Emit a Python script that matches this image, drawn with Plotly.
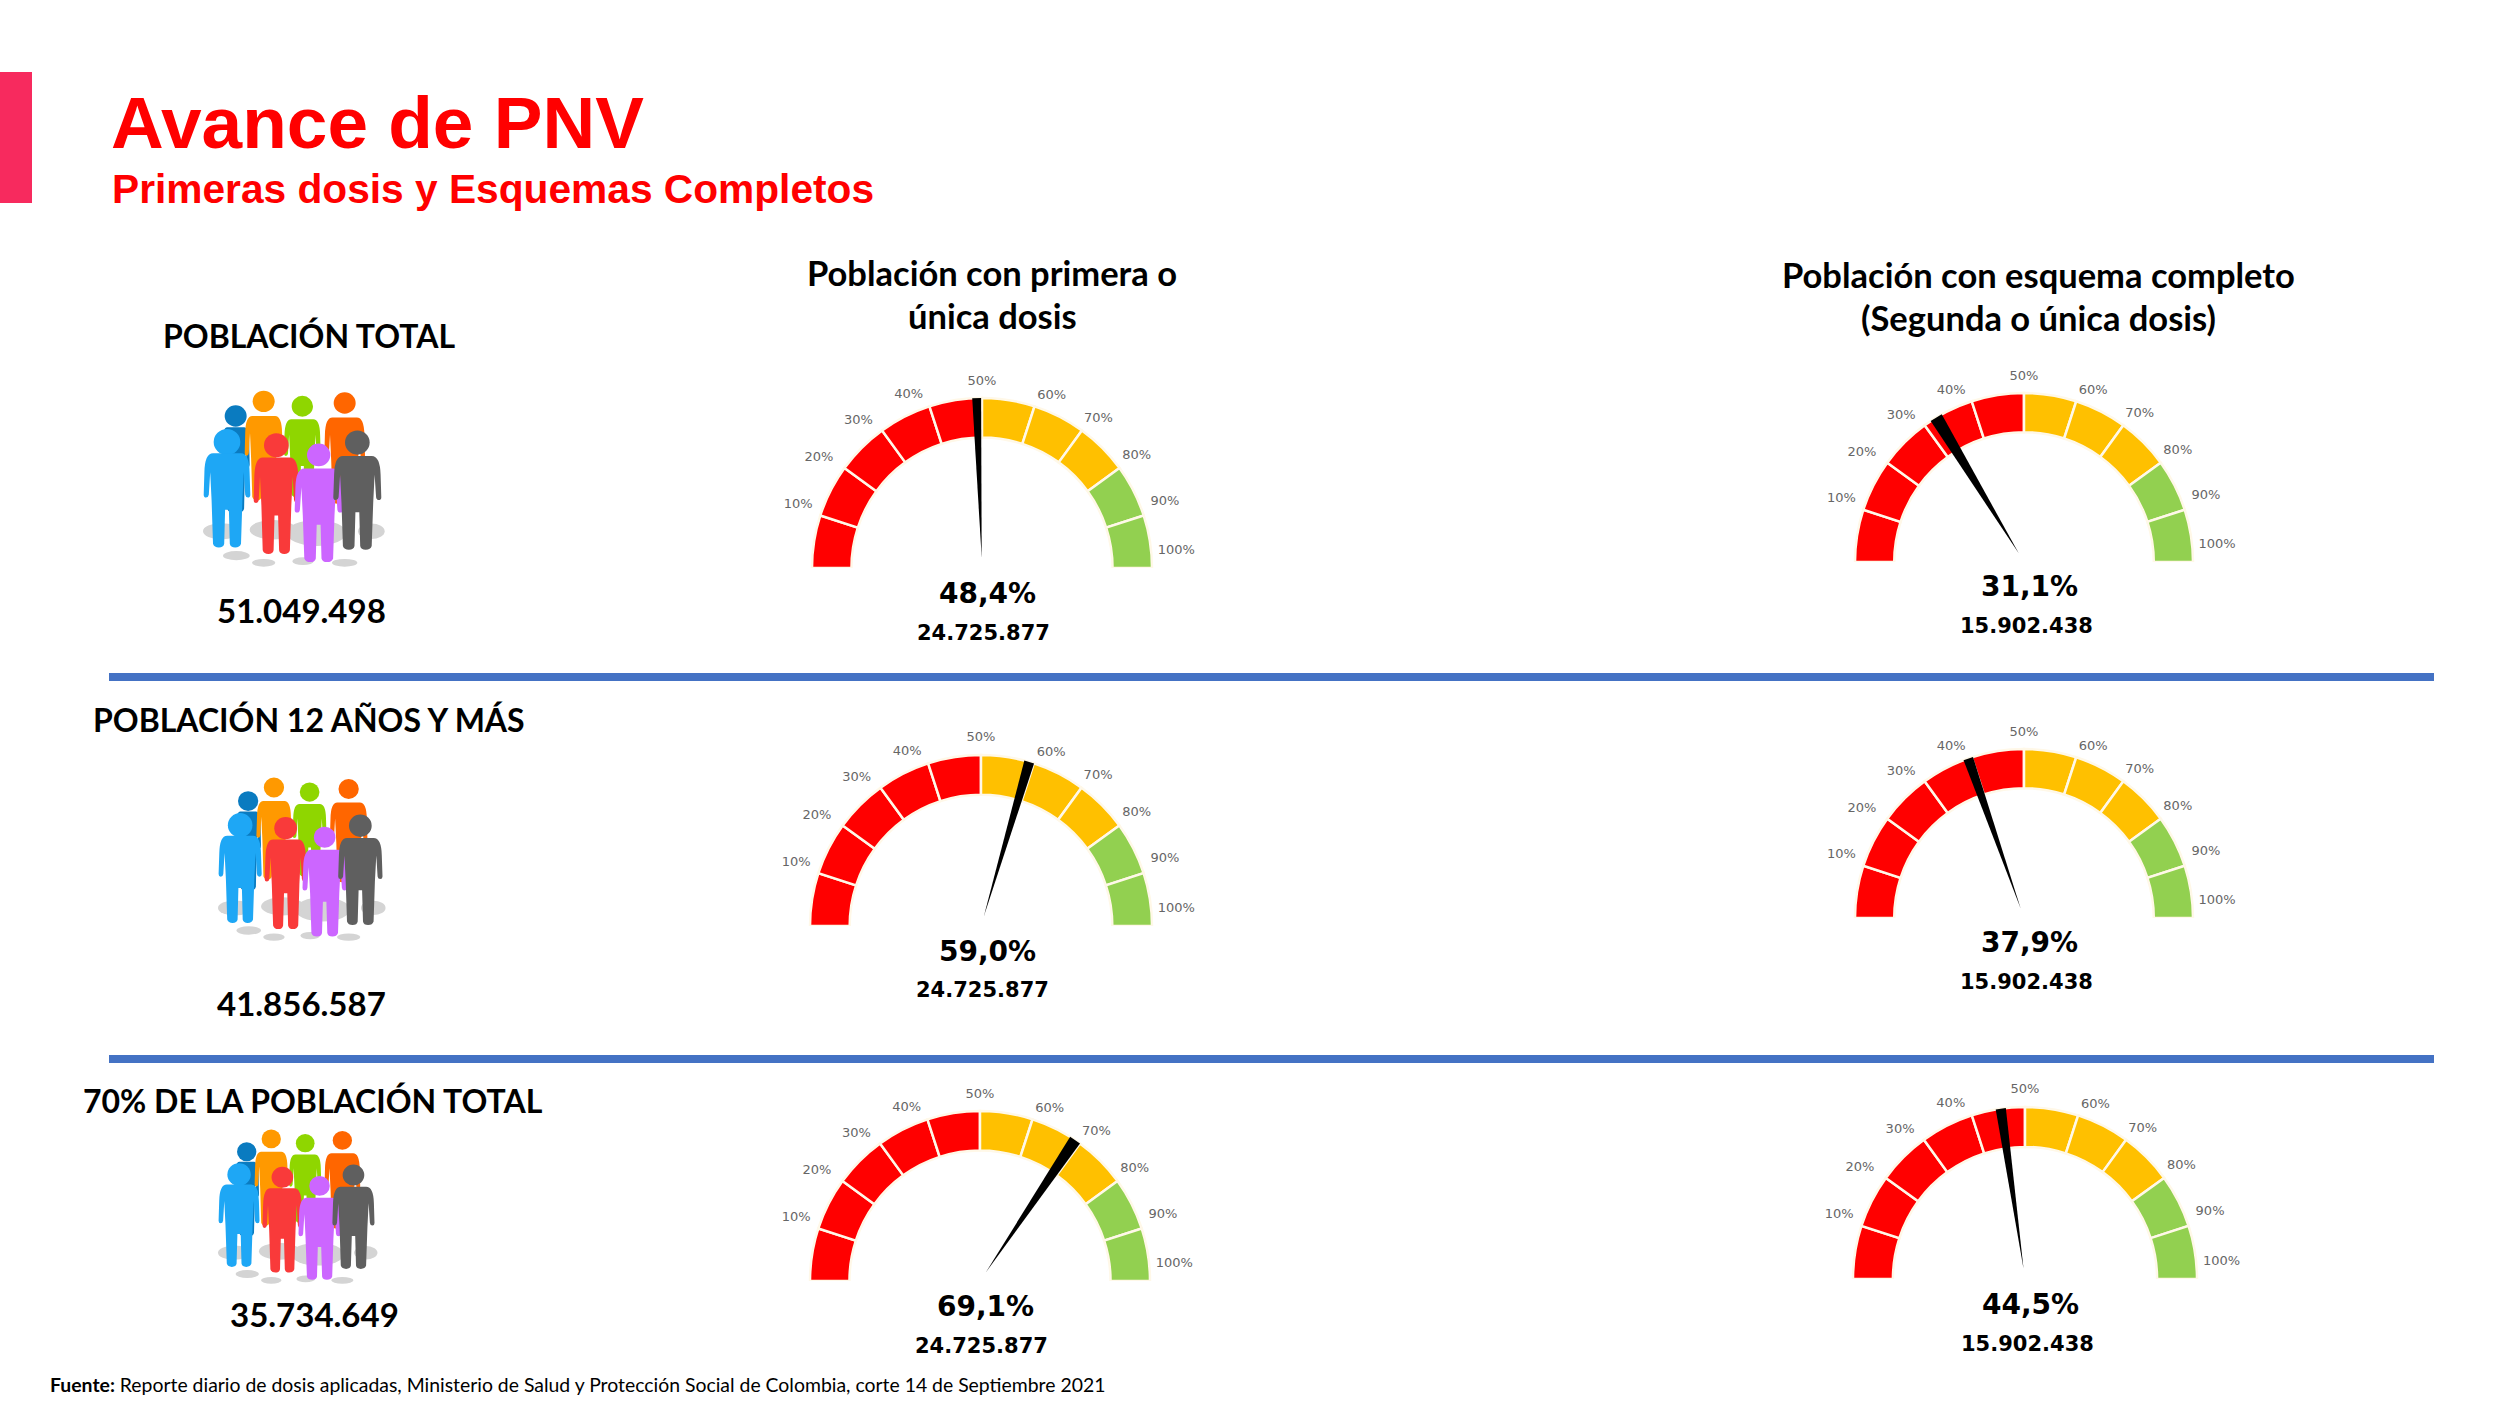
import plotly.graph_objects as go

W = 2500
H = 1406

# data
row_labels = ["POBLACIÓN TOTAL", "POBLACIÓN 12 AÑOS Y MÁS", "70% DE LA POBLACIÓN TOTAL"]
row_totals = ["51.049.498", "41.856.587", "35.734.649"]
col_titles = [["Población con primera o", "única dosis"],
              ["Población con esquema completo", "(Segunda o única dosis)"]]
gauge_pct_text = ["48,4%", "31,1%", "59,0%", "37,9%", "69,1%", "44,5%"]
gauge_doses = ["24.725.877", "15.902.438", "24.725.877", "15.902.438", "24.725.877", "15.902.438"]
# where the needle actually points on the dial (not quite the printed number)
needle_pct = [49.0, 32.6, 59.1, 39.3, 68.9, 45.5]
seg_labels = ["10%", "20%", "30%", "40%", "50%", "60%", "70%", "80%", "90%", "100%"]
seg_size = [10, 10, 10, 10, 10, 10, 10, 10, 10, 10]
seg_colors = ["#FF0000"] * 5 + ["#FFC000"] * 3 + ["#92D050"] * 2

# layout in pixels: centre x, base y, outer radius
gauge_xyr = [(982, 568, 170), (2024, 562, 169), (981, 926, 171),
             (2024, 918, 169), (980, 1281, 170), (2025, 1279, 172)]
needle_width = [3.0, 4.4, 3.4, 3.4, 4.0, 3.4]
label_theta = [161, 146, 130, 113, 90, 68, 52, 36, 20, 5]
label_r = [1.143, 1.157, 1.13, 1.104, 1.098, 1.094, 1.112, 1.125, 1.145, 1.147]
pct_xy = [(987, 593), (2029, 586), (987, 951), (2029, 942), (985, 1306), (2030, 1304)]
dose_xy = [(983, 633), (2026, 626), (982, 990), (2026, 982), (981, 1346), (2027, 1344)]
row_label_xy = [(309, 335), (309, 719), (313, 1100)]
row_total_xy = [(301, 610), (301, 1003), (314, 1314)]
col_title_xy = [[(992, 272), (992, 315)], [(2038, 274), (2038, 317)]]
icon_boxes = [(203, 390, 383, 567), (218, 777, 384, 941), (218, 1129, 376, 1284)]

fig = go.Figure()

# hidden axes covering the whole page, in pixels, for the furniture
fig.add_trace(go.Scatter(x=[0], y=[0], mode="markers", opacity=0, hoverinfo="skip", showlegend=False))
fig.update_layout(
    xaxis=dict(range=[0, W], visible=False, domain=[0, 1], fixedrange=True),
    yaxis=dict(range=[H, 0], visible=False, domain=[0, 1], fixedrange=True),
)


def text(x, y, s, size, family="Lato", color="#000000", anchor="center"):
    fig.add_annotation(x=x, y=y, text=s, showarrow=False, xanchor=anchor, yanchor="middle",
                       font=dict(family=family, size=size, color=color))


# gauges
RMAX = 1.25
for i, val in enumerate(needle_pct):
    cx, by, r = gauge_xyr[i]
    pid = "polar" if i == 0 else "polar%d" % (i + 1)
    thetas = [180 - 18 * (k + 0.5) for k in range(10)]
    fig.add_trace(go.Barpolar(
        r=[s * 0.0232 for s in seg_size], base=0.768, theta=thetas, width=18,
        marker=dict(color=seg_colors, line=dict(color="#FFF8E8", width=2.5)),
        subplot=pid, showlegend=False, hoverinfo="skip"))
    ang = 180 - 180 * val / 100
    hw = needle_width[i] / 2
    fig.add_trace(go.Scatterpolar(
        r=[0.06, 1, 1, 0.06], theta=[ang, ang - hw, ang + hw, ang],
        mode="lines", fill="toself", fillcolor="#000000", line=dict(width=0, color="#000000"),
        subplot=pid, showlegend=False, hoverinfo="skip"))
    fig.add_trace(go.Scatterpolar(
        r=label_r, theta=label_theta, text=seg_labels, mode="text",
        textfont=dict(family="DejaVu Sans", size=13, color="#666666"),
        subplot=pid, showlegend=False, hoverinfo="skip"))
    span = r * RMAX
    fig.update_layout({pid: dict(
        domain=dict(x=[(cx - span) / W, (cx + span) / W], y=[1 - by / H, 1 - (by - span) / H]),
        sector=[0, 180],
        bgcolor="rgba(0,0,0,0)",
        radialaxis=dict(range=[0, RMAX], visible=False),
        angularaxis=dict(showgrid=False, showline=False, ticks="", showticklabels=False),
    )})
    text(pct_xy[i][0], pct_xy[i][1], "<b>%s</b>" % gauge_pct_text[i], 28, "DejaVu Sans")
    text(dose_xy[i][0], dose_xy[i][1], "<b>%s</b>" % gauge_doses[i], 21, "DejaVu Sans")

# titles
text(109, 122, "<b>Avance de PNV</b>", 73, "Liberation Sans", "#FF0000", "left")
text(110, 189, "<b>Primeras dosis y Esquemas Completos</b>", 40.7, "Liberation Sans", "#FF0000", "left")
for col, lines in enumerate(col_titles):
    for k, line in enumerate(lines):
        text(col_title_xy[col][k][0], col_title_xy[col][k][1], "<b>%s</b>" % line, 34.5)
for i in range(3):
    text(row_label_xy[i][0], row_label_xy[i][1], "<b>%s</b>" % row_labels[i], 32)
    text(row_total_xy[i][0], row_total_xy[i][1], "<b>%s</b>" % row_totals[i], 33)
text(48, 1384, "<b>Fuente:</b> Reporte diario de dosis aplicadas, Ministerio de Salud y Protección "
     "Social de Colombia, corte 14 de Septiembre 2021", 19.4, anchor="left")

shapes = []
# red tab and blue rules
shapes.append(dict(type="rect", x0=0, x1=32, y0=72, y1=203, fillcolor="#F72A5E", line=dict(width=0)))
for y in [677, 1059]:
    shapes.append(dict(type="line", x0=109, x1=2434, y0=y, y1=y, line=dict(color="#4472C4", width=8)))

# people icon, drawn in the local coordinates of the first icon
shadows = [(485, 705, 55, 25), (530, 780, 40, 14), (612, 802, 35, 12), (730, 797, 32, 12),
           (855, 802, 38, 12), (935, 705, 40, 24), (770, 710, 90, 40), (640, 700, 70, 30)]
people = [
    (528, 350, 33, 385, 645, 42, "#0A7BC0"),
    (612, 305, 33, 350, 610, 57, "#FF9900"),
    (728, 320, 32, 360, 600, 55, "#8FD600"),
    (855, 310, 33, 355, 620, 61, "#FF6600"),
    (502, 430, 40, 465, 755, 70, "#1EA7F5"),
    (650, 440, 37, 478, 775, 68, "#F93A3A"),
    (777, 470, 35, 512, 800, 72, "#CC66FF"),
    (893, 432, 37, 473, 762, 72, "#5F5F5F"),
]
body = [("M", -0.6, 0), ("Q", -0.95, 0, -0.97, 0.2), ("L", -1, 0.44), ("Q", -1, 0.47, -0.9, 0.47),
        ("Q", -0.8, 0.47, -0.78, 0.44), ("L", -0.72, 0.2), ("L", -0.66, 0.5), ("L", -0.6, 0.96),
        ("Q", -0.55, 1, -0.35, 1), ("Q", -0.15, 1, -0.12, 0.96), ("L", -0.08, 0.6), ("L", 0.08, 0.6),
        ("L", 0.12, 0.96), ("Q", 0.15, 1, 0.35, 1), ("Q", 0.55, 1, 0.6, 0.96), ("L", 0.66, 0.5),
        ("L", 0.72, 0.2), ("L", 0.78, 0.44), ("Q", 0.8, 0.47, 0.9, 0.47), ("Q", 1, 0.47, 1, 0.44),
        ("L", 0.97, 0.2), ("Q", 0.95, 0, 0.6, 0)]

for x0, y0, x1, y1 in icon_boxes:
    sx = (x1 - x0) / 540
    sy = (y1 - y0) / 545
    px = lambda v: x0 + (v - 430) * sx
    py = lambda v: y0 + (v - 270) * sy
    for cx, cy, rx, ry in shadows:
        shapes.append(dict(type="circle", x0=px(cx - rx), x1=px(cx + rx), y0=py(cy - ry), y1=py(cy + ry),
                           fillcolor="#D4D4D4", line=dict(width=0)))
    for hx, hy, hr, top, foot, half, col in people:
        shapes.append(dict(type="circle", x0=px(hx - hr), x1=px(hx + hr), y0=py(hy - hr), y1=py(hy + hr),
                           fillcolor=col, line=dict(width=0)))
        d = ""
        for seg in body:
            nums = seg[1:]
            pts = []
            for j in range(0, len(nums), 2):
                pts.append("%.1f,%.1f" % (px(hx + nums[j] * half), py(top + nums[j + 1] * (foot - top))))
            d += seg[0] + " ".join(pts) + " "
        shapes.append(dict(type="path", path=d + "Z", fillcolor=col, line=dict(width=0)))

fig.update_layout(
    width=W, height=H, margin=dict(l=0, r=0, t=0, b=0),
    paper_bgcolor="#FFFFFF", plot_bgcolor="#FFFFFF",
    showlegend=False, shapes=shapes,
)

# the default page has a body margin that would push the figure off by 8px
fig.write_html("out.html", config=dict(displayModeBar=False),
               post_script="document.body.style.margin='0';")
